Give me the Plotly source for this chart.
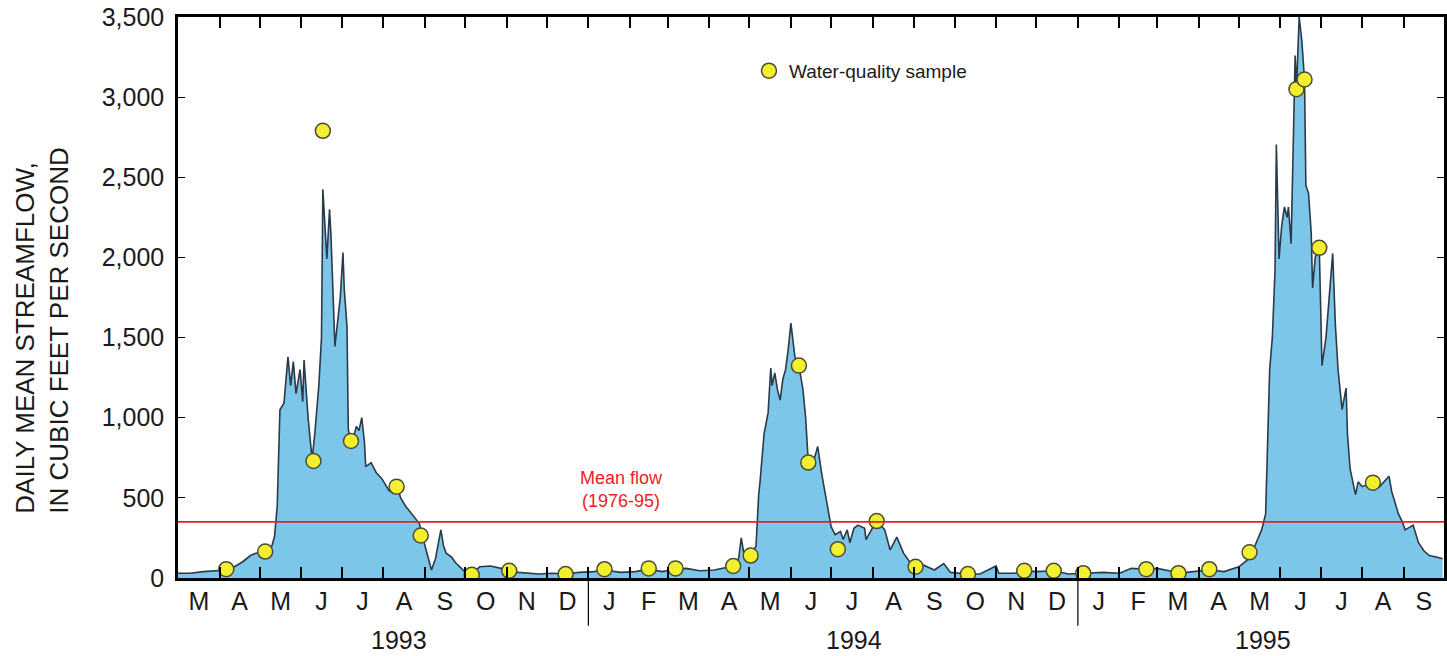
import pandas as pd
import plotly.graph_objects as go

# ---------------- data ----------------
flow_dates = [
    "1993-03-01", "1993-03-10", "1993-03-20", "1993-03-28", "1993-04-06", "1993-04-12",
    "1993-04-18", "1993-04-24", "1993-04-28", "1993-05-05", "1993-05-10", "1993-05-12",
    "1993-05-14", "1993-05-16", "1993-05-19", "1993-05-22", "1993-05-24", "1993-05-26",
    "1993-05-28", "1993-05-31", "1993-06-02", "1993-06-03", "1993-06-06", "1993-06-09",
    "1993-06-11", "1993-06-14", "1993-06-16", "1993-06-17", "1993-06-19", "1993-06-20",
    "1993-06-22", "1993-06-23", "1993-06-26", "1993-06-28", "1993-06-30", "1993-07-02",
    "1993-07-03", "1993-07-05", "1993-07-06", "1993-07-08", "1993-07-10", "1993-07-12",
    "1993-07-14", "1993-07-16", "1993-07-18", "1993-07-19", "1993-07-23", "1993-07-27",
    "1993-07-31", "1993-08-05", "1993-08-08", "1993-08-11", "1993-08-14", "1993-08-18",
    "1993-08-22", "1993-08-26", "1993-08-28", "1993-08-30", "1993-09-02", "1993-09-06",
    "1993-09-09", "1993-09-13", "1993-09-15", "1993-09-17", "1993-09-21", "1993-09-24",
    "1993-10-02", "1993-10-06", "1993-10-12", "1993-10-20", "1993-10-28", "1993-11-03",
    "1993-11-10", "1993-11-25", "1993-12-05", "1993-12-15", "1993-12-25",
    "1994-01-05", "1994-01-13", "1994-01-25", "1994-02-05", "1994-02-15", "1994-02-25",
    "1994-03-07", "1994-03-15", "1994-03-25", "1994-04-05", "1994-04-15", "1994-04-19",
    "1994-04-23", "1994-04-25", "1994-04-27", "1994-04-30", "1994-05-02", "1994-05-06",
    "1994-05-08", "1994-05-09", "1994-05-12", "1994-05-15", "1994-05-17", "1994-05-18",
    "1994-05-20", "1994-05-22", "1994-05-24", "1994-05-26", "1994-05-28", "1994-05-30",
    "1994-06-01", "1994-06-04", "1994-06-07", "1994-06-10", "1994-06-12", "1994-06-14",
    "1994-06-17", "1994-06-21", "1994-06-24", "1994-06-28", "1994-07-01", "1994-07-04",
    "1994-07-08", "1994-07-10", "1994-07-13", "1994-07-15", "1994-07-18", "1994-07-21",
    "1994-07-26", "1994-07-27", "1994-08-04", "1994-08-10", "1994-08-14", "1994-08-19",
    "1994-08-24", "1994-08-29", "1994-09-02", "1994-09-08", "1994-09-16", "1994-09-23",
    "1994-09-28", "1994-10-05", "1994-10-11", "1994-10-20", "1994-11-01", "1994-11-03",
    "1994-11-15", "1994-11-22", "1994-12-01", "1994-12-14", "1994-12-25",
    "1995-01-05", "1995-01-20", "1995-02-01", "1995-02-10", "1995-02-21", "1995-03-01",
    "1995-03-10", "1995-03-17", "1995-03-28", "1995-04-09", "1995-04-20", "1995-05-01",
    "1995-05-07", "1995-05-13", "1995-05-18", "1995-05-21", "1995-05-22", "1995-05-24",
    "1995-05-26", "1995-05-28", "1995-05-29", "1995-05-31", "1995-06-02", "1995-06-04",
    "1995-06-06", "1995-06-07", "1995-06-09", "1995-06-12", "1995-06-13", "1995-06-14",
    "1995-06-15", "1995-06-17", "1995-06-19", "1995-06-20", "1995-06-22", "1995-06-24",
    "1995-06-25", "1995-06-27", "1995-06-30", "1995-07-01", "1995-07-02", "1995-07-05",
    "1995-07-09", "1995-07-10", "1995-07-12", "1995-07-14", "1995-07-17", "1995-07-20",
    "1995-07-21", "1995-07-23", "1995-07-27", "1995-07-29", "1995-08-01", "1995-08-09",
    "1995-08-14", "1995-08-21", "1995-08-23", "1995-08-28", "1995-08-31", "1995-09-02",
    "1995-09-08", "1995-09-12", "1995-09-16", "1995-09-20", "1995-09-26", "1995-09-30",
]
flow_cfs = [
    30, 30, 40, 45, 50, 70,
    100, 140, 155, 165, 200, 260,
    450, 1050, 1090, 1380, 1200, 1350,
    1150, 1300, 1100, 1360, 1000, 740,
    900, 1200, 1500, 2425, 2100, 1990,
    2300, 2150, 1445, 1610, 1750, 2030,
    1800, 1570, 925, 850, 880, 945,
    920, 1000, 850, 695, 720, 655,
    620, 550, 530, 580, 500, 445,
    400, 360, 340, 270, 180, 50,
    120, 300, 200, 155, 130, 95,
    30, 25, 70, 75, 60, 45,
    35, 25, 30, 25, 35,
    40, 50, 35, 40, 55, 40,
    55, 60, 45, 50, 65, 75,
    120, 250, 150, 130, 140, 200,
    520, 600, 900, 1030, 1310, 1200,
    1280, 1175, 1110, 1240, 1300, 1425,
    1590, 1380, 1325, 1175, 1000, 720,
    700, 820, 650, 450, 320, 270,
    290, 240, 300, 220, 310, 330,
    310, 240, 360, 300, 175, 255,
    155, 95, 70, 80, 50, 90,
    35, 30, 25, 25, 75, 30,
    30, 45, 40, 45, 25,
    30, 35, 30, 60, 55, 60,
    45, 30, 40, 50, 40, 70,
    110, 200, 300, 400, 700, 1300,
    1500, 1920, 2705, 1990, 2200, 2315,
    2250, 2315, 2085, 3260, 3050, 3300,
    3500, 3350, 3110, 2450, 2400, 2150,
    1810, 2000, 2060, 1700, 1325, 1500,
    1900, 2025, 1580, 1300, 1050, 1185,
    900, 680, 520, 600, 570, 595,
    570, 635, 540, 400, 350, 300,
    330, 220, 170, 140, 130, 120,
]

sample_dates = [
    "1993-04-06", "1993-05-05", "1993-06-10", "1993-06-17", "1993-07-08", "1993-08-11",
    "1993-08-29", "1993-10-06", "1993-11-03", "1993-12-15",
    "1994-01-13", "1994-02-15", "1994-03-07", "1994-04-19", "1994-05-02", "1994-06-07",
    "1994-06-14", "1994-07-06", "1994-08-04", "1994-09-02", "1994-10-11", "1994-11-22",
    "1994-12-14",
    "1995-01-05", "1995-02-21", "1995-03-17", "1995-04-09", "1995-05-09", "1995-06-13",
    "1995-06-19", "1995-06-30", "1995-08-09",
]
sample_cfs = [
    55, 165, 730, 2790, 855, 570,
    265, 20, 45, 25,
    55, 60, 60, 75, 140, 1325,
    720, 180, 355, 70, 25, 45,
    45,
    30, 55, 30, 55, 160, 3050,
    3110, 2060, 595,
]

mean_flow = 350  # mean flow 1976-95, cubic feet per second

month_letters = ["M", "A", "M", "J", "J", "A", "S", "O", "N", "D",
                 "J", "F", "M", "A", "M", "J", "J", "A", "S", "O", "N", "D",
                 "J", "F", "M", "A", "M", "J", "J", "A", "S"]
year_labels = ["1993", "1994", "1995"]

x_start, x_end = "1993-03-01", "1995-10-01"
y_max = 3500

# ---------------- axis helpers ----------------
month_starts = [d.strftime("%Y-%m-%d") for d in pd.date_range(x_start, x_end, freq="MS")]
_ms = pd.to_datetime(month_starts)
month_mids = [(_ms[i] + (_ms[i + 1] - _ms[i]) / 2).strftime("%Y-%m-%d %H:%M")
              for i in range(len(_ms) - 1)]
year_label_pos = ["1993-08-13", "1994-07-18", "1995-05-19"]
year_breaks = ["1994-01-01", "1995-01-01"]

FONT = "Liberation Sans, Arial, Helvetica, sans-serif"

fig = go.Figure()
fig.add_trace(go.Scatter(
    x=flow_dates, y=flow_cfs, mode="lines",
    line=dict(color="#2b3a48", width=1.6),
    fill="tozeroy", fillcolor="#7cc6ea",
    showlegend=False, hoverinfo="skip"))
# mean-flow line lives on the overlaying label axis (same range) so that axis is drawn
fig.add_trace(go.Scatter(
    x=[x_start, x_end], y=[mean_flow, mean_flow], mode="lines", xaxis="x2",
    line=dict(color="#ee1c24", width=1.8), showlegend=False, hoverinfo="skip"))
fig.add_trace(go.Scatter(
    x=sample_dates, y=sample_cfs, mode="markers", name="Water-quality sample",
    marker=dict(size=15, color="#f2ef2e", line=dict(color="#4b4b3a", width=1.5))))

fig.update_layout(
    width=1447, height=656,
    margin=dict(l=178, r=0, t=17, b=78),
    paper_bgcolor="white", plot_bgcolor="white",
    font=dict(family=FONT, color="#1a1a1a"),
    showlegend=True,
    legend=dict(x=0.451, y=0.904, xanchor="left", yanchor="middle",
                bgcolor="rgba(0,0,0,0)", font=dict(size=19, color="#1a1a1a")),
    # month-boundary ticks (bottom + mirrored top), no labels
    xaxis=dict(
        type="date", range=[x_start, x_end],
        tickmode="array", tickvals=month_starts, showticklabels=False,
        ticks="inside", ticklen=11, tickwidth=1.6, tickcolor="black",
        showline=True, linecolor="black", linewidth=2.5, mirror="ticks",
        showgrid=False, zeroline=False, layer="above traces",
    ),
    # month letters centred in each month
    xaxis2=dict(
        type="date", range=[x_start, x_end], overlaying="x", side="bottom", anchor="y",
        tickmode="array", tickvals=month_mids, ticktext=month_letters,
        ticks="", tickfont=dict(size=25), ticklabelstandoff=6,
        showline=False, showgrid=False, zeroline=False,
    ),
    yaxis=dict(
        range=[0, y_max], tickmode="array", tickvals=list(range(0, y_max + 1, 500)),
        tickformat=",", ticks="inside", ticklen=7, tickwidth=1.4, tickcolor="black",
        tickfont=dict(size=25), ticklabelstandoff=6,
        showline=True, linecolor="black", linewidth=2.5, mirror="ticks",
        showgrid=False, zeroline=False, layer="above traces",
    ),
)

for xb in year_breaks:
    fig.add_shape(type="line", xref="x", yref="paper", x0=xb, x1=xb, y0=0, y1=-0.085,
                  line=dict(color="black", width=1.2))

for lab, pos in zip(year_labels, year_label_pos):
    fig.add_annotation(x=pos, xref="x", y=-0.11, yref="paper", text=lab,
                       showarrow=False, font=dict(size=25, color="#1a1a1a"),
                       xanchor="center", yanchor="middle")

fig.add_annotation(x="1994-01-26", xref="x", y=550, yref="y",
                   text="Mean flow<br>(1976-95)", showarrow=False,
                   font=dict(size=18, color="#ee1c24"), align="center")

fig.add_annotation(x=-0.107, xref="paper", y=0.44, yref="paper",
                   xanchor="center", yanchor="middle",
                   text="DAILY MEAN STREAMFLOW,<br>IN CUBIC FEET PER SECOND",
                   textangle=-90, showarrow=False, align="left",
                   font=dict(size=26, color="#1a1a1a"))

fig.write_html("out.html")
